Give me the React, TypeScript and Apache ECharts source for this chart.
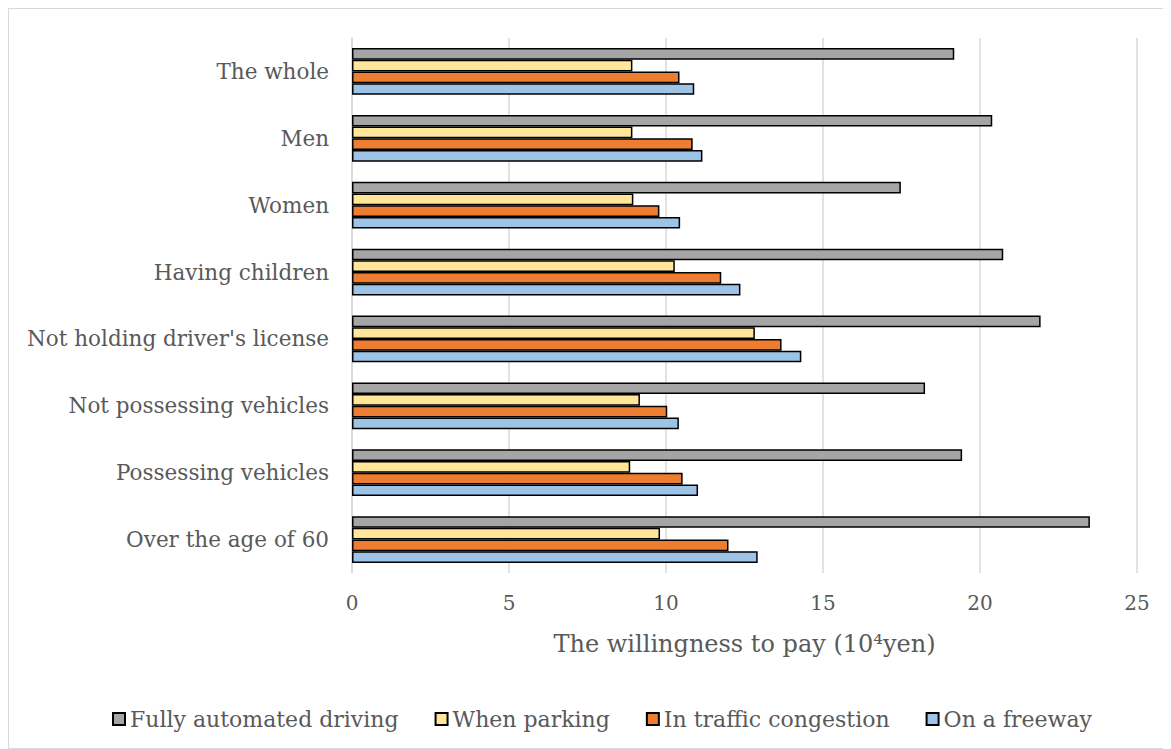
import React, { useEffect, useRef } from "react";
import * as echarts from "echarts";

// Respondent groups, listed top to bottom
const categories = [
  "The whole",
  "Men",
  "Women",
  "Having children",
  "Not holding driver's license",
  "Not possessing vehicles",
  "Possessing vehicles",
  "Over the age of 60",
];

const seriesNames = [
  "Fully automated driving",
  "When parking",
  "In traffic congestion",
  "On a freeway",
];

// Willingness to pay, in units of 10^4 yen
const fullyAutomated = [19.18, 20.39, 17.48, 20.74, 21.93, 18.25, 19.43, 23.5];
const whenParking = [8.93, 8.93, 8.96, 10.28, 12.83, 9.17, 8.86, 9.81];
const inCongestion = [10.43, 10.85, 9.79, 11.76, 13.68, 10.04, 10.53, 11.99];
const onFreeway = [10.9, 11.16, 10.45, 12.37, 14.31, 10.41, 11.02, 12.92];

const xTicks = { min: 0, max: 25, interval: 5 };

const colors = ["#A5A5A5", "#FFE699", "#ED7D31", "#9DC3E6"];

const FONT = "DejaVu Serif";
const TEXT = "#595959";

export default function App() {
  const ref = useRef<HTMLDivElement>(null);

  useEffect(() => {
    if (!ref.current) return;
    const chart = echarts.init(ref.current, null, { renderer: "svg" });
    const values = [fullyAutomated, whenParking, inCongestion, onFreeway];
    chart.setOption({
      animation: false,
      backgroundColor: "#ffffff",
      textStyle: { fontFamily: FONT, color: TEXT },
      legend: {
        data: seriesNames,
        top: 694,
        left: 98,
        itemWidth: 12,
        itemHeight: 12,
        itemGap: 36,
        icon: "rect",
        textStyle: { fontFamily: FONT, fontSize: 22, color: TEXT },
      },
      grid: { left: 343, right: 33, top: 29, bottom: 175 },
      xAxis: {
        type: "value",
        min: xTicks.min,
        max: xTicks.max,
        interval: xTicks.interval,
        axisLine: { show: false },
        axisTick: { show: false },
        splitLine: { lineStyle: { color: "#D9D9D9", width: 1.5 } },
        axisLabel: { fontFamily: FONT, fontSize: 20, color: TEXT, margin: 20 },
        name: "The willingness to pay (10\u2074yen)",
        nameLocation: "middle",
        nameGap: 59,
        nameTextStyle: { fontFamily: FONT, fontSize: 24, color: TEXT },
      },
      yAxis: {
        type: "category",
        data: categories,
        inverse: true,
        axisLine: { show: true, lineStyle: { color: "#D9D9D9", width: 1.5 } },
        axisTick: { show: false },
        axisLabel: { fontFamily: FONT, fontSize: 21.5, color: TEXT, margin: 23 },
      },
      series: seriesNames.map((name, i) => ({
        name,
        type: "bar",
        data: values[i],
        barGap: "0%",
        barCategoryGap: "30%",
        itemStyle: { color: colors[i], borderColor: "#000000", borderWidth: 1.5 },
      })),
    });
    return () => chart.dispose();
  }, []);

  return (
    <div style={{ width: 1161, height: 739, border: "1px solid #D9D9D9" }}>
      <div ref={ref} style={{ width: 1161, height: 739 }} />
    </div>
  );
}
